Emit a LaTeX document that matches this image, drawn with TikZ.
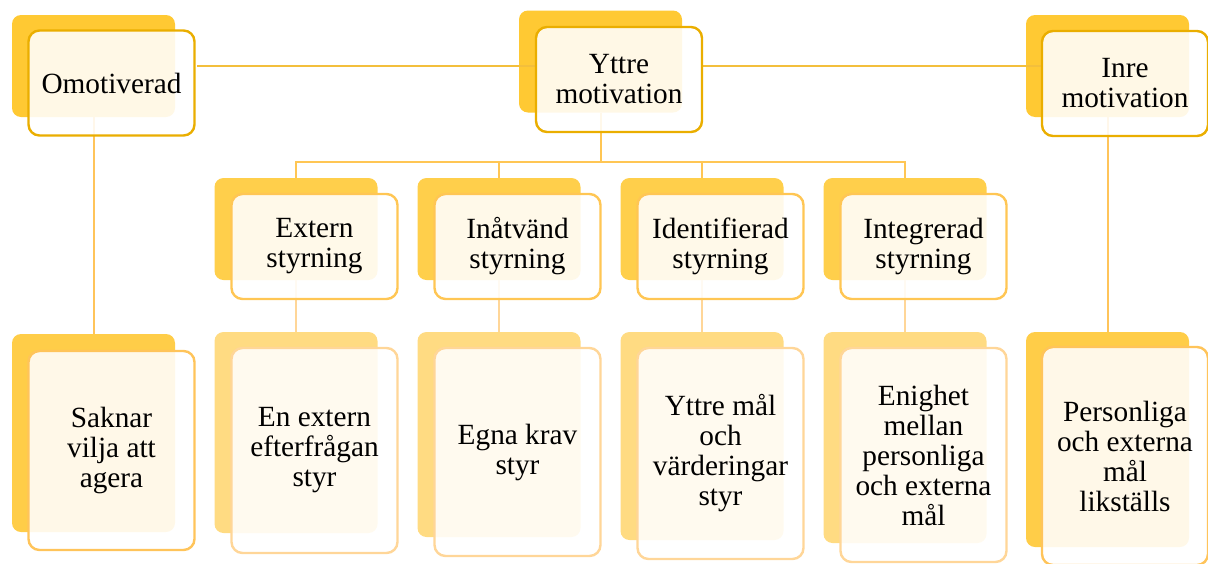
\documentclass[tikz,border=0pt]{standalone}
\usepackage{fontspec}
\setmainfont{Liberation Serif}
\usetikzlibrary{positioning}
\definecolor{topback}{HTML}{FFC933}
\definecolor{topedge}{HTML}{EAAE00}
\definecolor{midback}{HTML}{FFCF4B}
\definecolor{midedge}{HTML}{FFC654}
\definecolor{sideback}{HTML}{FFCD48}
\definecolor{sideedge}{HTML}{FFC45A}
\definecolor{botback}{HTML}{FFDB82}
\definecolor{botedge}{HTML}{FFD698}
\definecolor{toplink}{HTML}{F3BF3C}
\tikzset{
    back/.style={rectangle,rounded corners=9pt,inner sep=0pt,minimum width=163pt,minimum height=102pt},
    front/.style={rectangle,rounded corners=11pt,draw,line width=2.4pt,fill=white,fill opacity=0.88,text opacity=1,
        align=center,inner sep=3pt,minimum width=166pt,minimum height=105pt,font=\fontsize{29.3}{30}\selectfont},
    link/.style={line width=2pt,draw=midedge},
    toplinkline/.style={line width=1.3pt,draw=toplink},
}
\begin{document}
\begin{tikzpicture}[x=1pt,y=-1pt]
    \useasboundingbox (0,0) rectangle (1208,563);
    % back plates
    \node[back,fill=topback] (omoB) at (93.5,66) {};
    \node[back,fill=topback] (yttB) at (600.5,61.5) {};
    \node[back,fill=topback] (inrB) at (1107.5,66) {};
    \node[back,fill=midback] (extB) at (296,229) {};
    \node[back,fill=midback] (inaB) at (499,229) {};
    \node[back,fill=midback] (ideB) at (702,229) {};
    \node[back,fill=midback] (intB) at (905,229) {};
    \node[back,fill=sideback,minimum height=198pt] (sakB) at (93.5,433) {};
    \node[back,fill=botback,minimum height=201pt] (efsB) at (296,432.5) {};
    \node[back,fill=botback,minimum height=205pt] (egnB) at (499,434.5) {};
    \node[back,fill=botback,minimum height=208pt] (ymvB) at (702,436) {};
    \node[back,fill=botback,minimum height=211pt] (enmB) at (905,437.5) {};
    \node[back,fill=sideback,minimum height=215pt] (perB) at (1107.5,439.5) {};

    % connectors
    \coordinate (bus) at (600.5,162);
    \draw[toplinkline] (omoB -| 197,0) -- (omoB -| 536,0);
    \draw[toplinkline] (inrB -| 703,0) -- (inrB -| 1043,0);
    \draw[link,draw=sideedge] (omoB.south) -- (sakB.north);
    \draw[link,draw=sideedge] (inrB.south) -- (perB.north);
    \draw[link] (yttB.south) -- (bus);
    \draw[link] (extB.north) |- (bus) -| (intB.north);
    \draw[link] (inaB.north) -- (inaB.north |- bus);
    \draw[link] (ideB.north) -- (ideB.north |- bus);
    \draw[link,draw=botedge] (extB.south) -- (efsB.north);
    \draw[link,draw=botedge] (inaB.south) -- (egnB.north);
    \draw[link,draw=botedge] (ideB.south) -- (ymvB.north);
    \draw[link,draw=botedge] (intB.south) -- (enmB.north);

    % front cards
    \node[front,draw=topedge] (omoF) at (111.5,83) {Omotiverad};
    \node[front,draw=topedge] (yttF) at (619,79.5) {Yttre\\motivation};
    \node[front,draw=topedge] (inrF) at (1125,83.5) {Inre\\motivation};
    \node[front,draw=midedge] (extF) at (314.5,246.5) {Extern\\styrning};
    \node[front,draw=midedge] (inaF) at (517.5,246.5) {Inåtvänd\\styrning};
    \node[front,draw=midedge] (ideF) at (720.5,246.5) {Identifierad\\styrning};
    \node[front,draw=midedge] (intF) at (923.5,246.5) {Integrerad\\styrning};
    \node[front,draw=sideedge,minimum height=199pt] (sakF) at (111.5,450.5) {Saknar\\vilja att\\agera};
    \node[front,draw=botedge,minimum height=205pt] (efsF) at (314.5,450.5) {En extern\\efterfrågan\\styr};
    \node[front,draw=botedge,minimum height=208pt] (egnF) at (517.5,452) {Egna krav\\styr};
    \node[front,draw=botedge,minimum height=211pt] (ymvF) at (720.5,453.5) {Yttre mål\\och\\värderingar\\styr};
    \node[front,draw=botedge,minimum height=214pt] (enmF) at (923.5,455) {Enighet\\mellan\\personliga\\och externa\\mål};
    \node[front,draw=sideedge,minimum height=218pt] (perF) at (1125,456) {Personliga\\och externa\\mål\\likställs};
\end{tikzpicture}
\end{document}
